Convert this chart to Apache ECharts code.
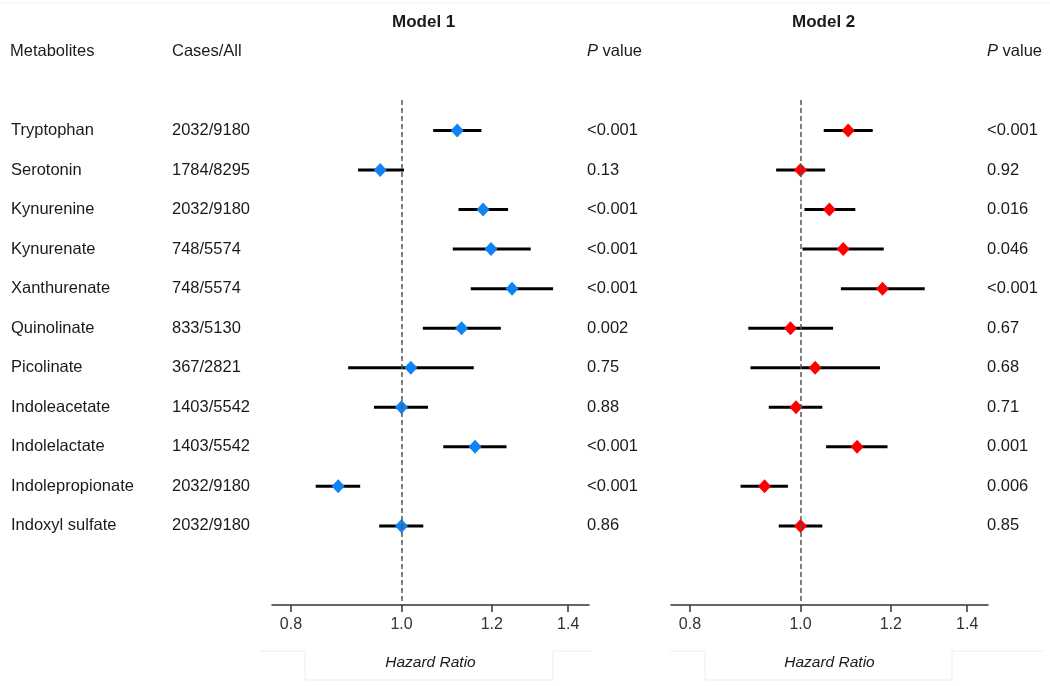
<!DOCTYPE html>
<html><head><meta charset="utf-8">
<script src="https://cdn.jsdelivr.net/npm/echarts@6/dist/echarts.min.js"></script>
<style>html,body{margin:0;padding:0;background:#fff}#c{width:1050px;height:686px}</style>
</head><body><div id="c"></div>
<script>
const metabolites = ['Tryptophan','Serotonin','Kynurenine','Kynurenate','Xanthurenate','Quinolinate','Picolinate','Indoleacetate','Indolelactate','Indolepropionate','Indoxyl sulfate'];
const casesAll = ['2032/9180','1784/8295','2032/9180','748/5574','748/5574','833/5130','367/2821','1403/5542','1403/5542','2032/9180','2032/9180'];
const m1HR = [1.119,0.958,1.179,1.198,1.250,1.129,1.019,1.000,1.160,0.880,1.000];
const m1Lo = [1.066,0.916,1.122,1.109,1.150,1.044,0.898,0.946,1.088,0.841,0.956];
const m1Hi = [1.175,1.005,1.240,1.298,1.358,1.222,1.157,1.055,1.236,0.920,1.045];
const m1P  = ['<0.001','0.13','<0.001','<0.001','<0.001','0.002','0.75','0.88','<0.001','<0.001','0.86'];
const m2HR = [1.101,1.000,1.060,1.090,1.180,0.980,1.030,0.991,1.121,0.930,1.000];
const m2Lo = [1.048,0.952,1.008,1.004,1.085,0.900,0.904,0.938,1.053,0.886,0.957];
const m2Hi = [1.157,1.051,1.117,1.183,1.285,1.068,1.174,1.045,1.192,0.975,1.045];
const m2P  = ['<0.001','0.92','0.016','0.046','<0.001','0.67','0.68','0.71','0.001','0.006','0.85'];
const xTicks = [0.8, 1.0, 1.2, 1.4];

const FONT = "'Liberation Sans', Arial, sans-serif";
const TXT = '#1a1a1a';
const rowIdx = metabolites.map((_, i) => i);

function xAx(g) {
  return {
    type: 'log', gridIndex: g, min: 0.77, max: 1.46, logBase: 10,
    axisLine: { show: true, onZero: false, lineStyle: { color: '#333', width: 1.5 } },
    axisTick: { show: true, length: 7, customValues: xTicks, lineStyle: { color: '#333', width: 1.5 } },
    axisLabel: { customValues: xTicks, formatter: v => Number(v).toFixed(1), margin: 12, fontSize: 16, color: '#333', fontFamily: FONT },
    splitLine: { show: false }, minorTick: { show: false },
    name: 'Hazard Ratio', nameLocation: 'middle', nameGap: 50,
    nameTextStyle: { fontStyle: 'italic', fontSize: 15.5, color: TXT, fontFamily: FONT }
  };
}
function yAx(g, position, margin, labels) {
  return {
    type: 'value', gridIndex: g, position: position, min: -0.77, max: 12, inverse: true,
    axisLine: { show: false, onZero: false }, axisTick: { show: false }, splitLine: { show: false },
    axisLabel: labels ? {
      show: true, customValues: rowIdx, formatter: v => labels[Math.round(v)] || '',
      align: 'left', margin: margin, fontSize: 16.5, color: TXT, fontFamily: FONT
    } : { show: false }
  };
}
function bars(g, lo, hi) {
  return {
    type: 'custom', xAxisIndex: g, yAxisIndex: g === 0 ? 0 : 3,
    data: lo.map((l, i) => [l, hi[i], i]),
    encode: { x: [0, 1], y: 2 },
    renderItem: (params, api) => {
      const y = api.value(2);
      const a = api.coord([api.value(0), y]);
      const b = api.coord([api.value(1), y]);
      return { type: 'line', shape: { x1: a[0], y1: a[1], x2: b[0], y2: b[1] }, style: { stroke: '#000', lineWidth: 3 } };
    },
    markLine: {
      silent: true, symbol: 'none', label: { show: false },
      lineStyle: { type: [5, 3], color: '#555', width: 1.5 },
      data: [{ xAxis: 1 }]
    },
    z: 2
  };
}
function pts(g, hr, color) {
  return {
    type: 'scatter', xAxisIndex: g, yAxisIndex: g === 0 ? 0 : 3,
    data: hr.map((v, i) => [v, i]), symbol: 'diamond', symbolSize: [13, 14],
    itemStyle: { color: color, opacity: 1 }, z: 4
  };
}
function ttl(text, left, top, extra) {
  return Object.assign({
    text: text, left: left, top: top, padding: 0,
    textStyle: { fontSize: 16.5, fontWeight: 'normal', color: TXT, fontFamily: FONT,
      rich: { i: { fontStyle: 'italic', fontSize: 16.5, color: TXT, fontFamily: FONT } } }
  }, extra || {});
}

const chart = echarts.init(document.getElementById('c'), null, { renderer: 'canvas' });
chart.setOption({
  backgroundColor: '#fff',
  animation: false,
  title: [
    ttl('Model 1', 392, 14, { textStyle: { fontSize: 17, fontWeight: 'bold', color: TXT, fontFamily: FONT } }),
    ttl('Model 2', 792, 14, { textStyle: { fontSize: 17, fontWeight: 'bold', color: TXT, fontFamily: FONT } }),
    ttl('Metabolites', 10, 43),
    ttl('Cases/All', 172, 43),
    ttl('{i|P} value', 587, 43),
    ttl('{i|P} value', 987, 43)
  ],
  grid: [
    { left: 272, width: 317, top: 100, height: 505 },
    { left: 671, width: 317, top: 100, height: 505 }
  ],
  xAxis: [xAx(0), xAx(1)],
  yAxis: [
    yAx(0, 'left', 0, null),
    yAx(0, 'left', 261, metabolites),
    yAx(0, 'left', 100, casesAll),
    yAx(1, 'left', 0, null),
    yAx(0, 'right', -2, m1P),
    yAx(1, 'right', -1, m2P)
  ],
  series: [
    bars(0, m1Lo, m1Hi), pts(0, m1HR, '#0f82f5'),
    bars(1, m2Lo, m2Hi), pts(1, m2HR, '#ff0000')
  ],
  graphic: [
    { type: 'polyline', silent: true, shape: { points: [[260, 651], [305, 651], [305, 680], [553, 680], [553, 651], [592, 651]] }, style: { stroke: '#f3f3f3', lineWidth: 1.5, fill: null } },
    { type: 'polyline', silent: true, shape: { points: [[670, 651], [705, 651], [705, 680], [952, 680], [952, 651], [1043, 651]] }, style: { stroke: '#f3f3f3', lineWidth: 1.5, fill: null } },
    { type: 'line', silent: true, shape: { x1: 0, y1: 3, x2: 1050, y2: 3 }, style: { stroke: '#f5f5f5', lineWidth: 1.5 } }
  ]
});
</script></body></html>
